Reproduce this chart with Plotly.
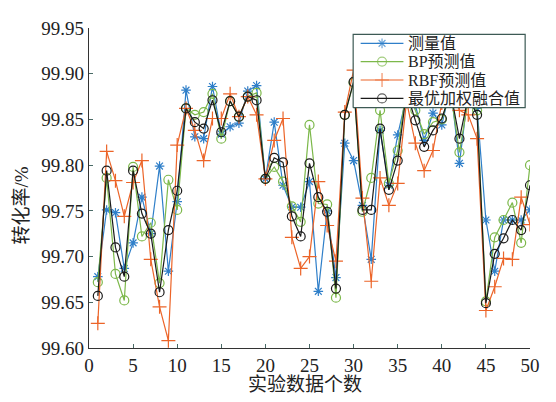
import plotly.graph_objects as go

x_vals = list(range(1, 51))

measured = [99.678, 99.751, 99.748, 99.687, 99.715, 99.765, 99.725, 99.799, 99.684, 99.760,
            99.882, 99.831, 99.829, 99.886, 99.834, 99.842, 99.846, 99.881, 99.887, 99.785,
            99.847, 99.778, 99.754, 99.754, 99.782, 99.662, 99.750, 99.677, 99.824, 99.805,
            99.756, 99.697, 99.838, 99.778, 99.833, 99.875, 99.866, 99.827, 99.857, 99.844,
            99.885, 99.802, 99.880, 99.862, 99.740, 99.684, 99.740, 99.740, 99.740, 99.751]

bp_pred = [99.672, 99.786, 99.681, 99.652, 99.798, 99.722, 99.737, 99.671, 99.784, 99.751,
           99.862, 99.855, 99.858, 99.878, 99.829, 99.870, 99.853, 99.875, 99.879, 99.785,
           99.798, 99.782, 99.755, 99.738, 99.844, 99.758, 99.757, 99.655, 99.855, 99.890,
           99.749, 99.786, 99.860, 99.780, 99.816, 99.885, 99.860, 99.834, 99.847, 99.850,
           99.880, 99.814, 99.872, 99.860, 99.651, 99.721, 99.740, 99.759, 99.715, 99.800]

rbf_pred = [99.627, 99.815, 99.783, 99.744, 99.781, 99.805, 99.697, 99.645, 99.608, 99.822,
            99.862, 99.838, 99.805, 99.851, 99.851, 99.878, 99.853, 99.875, 99.855, 99.785,
            99.827, 99.851, 99.721, 99.687, 99.700, 99.782, 99.734, 99.695, 99.858, 99.904,
            99.764, 99.673, 99.786, 99.756, 99.780, 99.870, 99.824, 99.794, 99.816, 99.868,
            99.880, 99.860, 99.855, 99.829, 99.641, 99.667, 99.698, 99.697, 99.765, 99.735]

fused = [99.657, 99.794, 99.710, 99.678, 99.794, 99.747, 99.725, 99.661, 99.729, 99.772,
         99.862, 99.847, 99.840, 99.871, 99.836, 99.870, 99.853, 99.875, 99.871, 99.785,
         99.808, 99.803, 99.744, 99.722, 99.802, 99.765, 99.749, 99.665, 99.855, 99.891,
         99.751, 99.751, 99.840, 99.773, 99.805, 99.880, 99.849, 99.820, 99.838, 99.851,
         99.880, 99.829, 99.875, 99.855, 99.649, 99.703, 99.720, 99.740, 99.729, 99.778]

names = ["测量值", "BP预测值", "RBF预测值", "最优加权融合值"]
x_ticks = [0, 5, 10, 15, 20, 25, 30, 35, 40, 45, 50]
y_ticks = [99.60, 99.65, 99.70, 99.75, 99.80, 99.85, 99.90, 99.95]
x_title = "实验数据个数"
y_title = "转化率/%"

FONT = "Liberation Serif, Noto Sans CJK SC, serif"

styles = [
    ("#2f7fc9", "asterisk-open", 8),
    ("#7cb84a", "circle-open", 9),
    ("#ec6428", "cross-thin-open", 10),
    ("#1a1a1a", "circle-open", 9),
]
series = [measured, bp_pred, rbf_pred, fused]

fig = go.Figure()
for vals, (color, sym, size), name in zip(series, styles, names):
    fig.add_trace(go.Scatter(
        x=x_vals, y=vals, name=name, mode="lines+markers", showlegend=False,
        line=dict(color=color, width=1.2),
        marker=dict(symbol=sym, size=size, color=color, line=dict(color=color, width=1.2)),
    ))

# custom legend drawn on an overlay axis spanning the plot area (0..1)
bx0, bx1, by0, by1 = 0.599, 0.989, 0.751, 0.980
fig.add_trace(go.Scatter(
    x=[bx0, bx1, bx1, bx0, bx0], y=[by0, by0, by1, by1, by0],
    xaxis="x2", yaxis="y2", mode="lines", fill="toself",
    fillcolor="white", line=dict(color="#3d5a55", width=1.2),
    hoverinfo="skip", showlegend=False,
))
row_y = [0.952, 0.895, 0.8375, 0.780]
sx0, sx1, sxm = 0.616, 0.713, 0.6645
for (color, sym, size), ry, name in zip(styles, row_y, names):
    fig.add_trace(go.Scatter(
        x=[sx0, sxm, sx1], y=[ry, ry, ry], xaxis="x2", yaxis="y2",
        mode="lines+markers", showlegend=False, hoverinfo="skip",
        line=dict(color=color, width=1.2),
        marker=dict(symbol=sym, size=[0, size, 0], color=color,
                    line=dict(color=color, width=1.2)),
    ))
    fig.add_annotation(
        x=0.718, y=ry, xref="x2", yref="y2", text=name, showarrow=False,
        xanchor="left", yanchor="middle",
        font=dict(family=FONT, size=16, color="#222"),
    )

# page has an 8px body margin, so margins are shifted to land the plot at the reference spot
fig.update_layout(
    width=556, height=402,
    margin=dict(l=81, r=34, t=20, b=62),
    paper_bgcolor="white", plot_bgcolor="white",
    font=dict(family=FONT, size=15, color="#222"),
    showlegend=False,
    xaxis=dict(range=[0, 50], tickvals=x_ticks, ticktext=[str(v) for v in x_ticks],
               showline=True, linecolor="#333", linewidth=1.2,
               ticks="inside", ticklen=4, tickcolor="#4a6a66",
               showgrid=False, zeroline=False, automargin=False,
               tickfont=dict(family=FONT, size=19)),
    yaxis=dict(range=[99.60, 99.95], tickvals=y_ticks, ticktext=[f"{v:.2f}" for v in y_ticks],
               showline=True, linecolor="#333", linewidth=1.2,
               ticks="inside", ticklen=4, tickcolor="#4a6a66",
               showgrid=False, zeroline=False, automargin=False,
               tickfont=dict(family=FONT, size=19)),
    xaxis2=dict(overlaying="x", range=[0, 1], visible=False, fixedrange=True),
    yaxis2=dict(overlaying="y", range=[0, 1], visible=False, fixedrange=True),
)
fig.add_annotation(
    x=0.49, y=-0.115, xref="paper", yref="paper", text=x_title, showarrow=False,
    xanchor="center", yanchor="middle", font=dict(family=FONT, size=19, color="#222"),
)
fig.add_annotation(
    x=-0.152, y=0.445, xref="paper", yref="paper", text=y_title, showarrow=False,
    textangle=-90, xanchor="center", yanchor="middle",
    font=dict(family=FONT, size=19, color="#222"),
)

fig.write_html("out.html")
